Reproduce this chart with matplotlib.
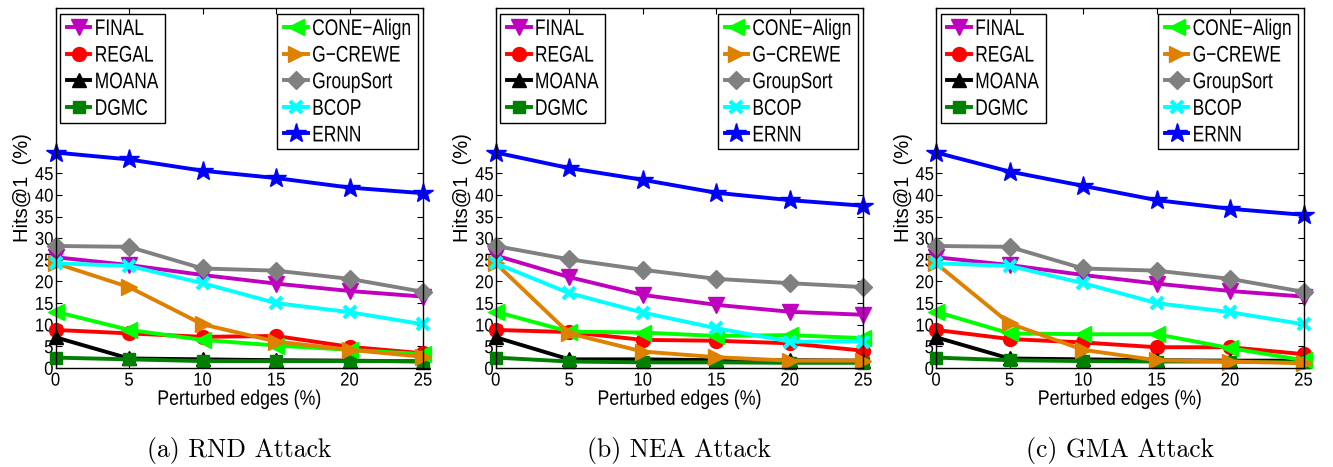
import matplotlib
matplotlib.use("Agg")
import matplotlib.pyplot as plt
from matplotlib.legend import Legend
from matplotlib import patheffects
from matplotlib.transforms import Affine2D

# Perturbation levels (% of edges)
perturbed = [0, 5, 10, 15, 20, 25]

# Hits@1 (%) per method, one list per attack type
rnd = {
    "FINAL":      [25.6, 23.8, 21.5, 19.5, 17.8, 16.5],
    "REGAL":      [8.8, 8.0, 7.2, 7.4, 4.9, 3.4],
    "MOANA":      [7.1, 2.2, 2.0, 1.8, 1.7, 1.5],
    "DGMC":       [2.4, 2.0, 1.6, 1.6, 1.6, 1.6],
    "CONE-Align": [13.0, 8.8, 6.5, 5.2, 4.2, 3.2],
    "G-CREWE":    [24.2, 18.7, 10.1, 6.1, 4.2, 2.6],
    "GroupSort":  [28.2, 28.0, 23.0, 22.5, 20.6, 17.6],
    "BCOP":       [24.2, 23.6, 19.6, 15.0, 12.9, 10.1],
    "ERNN":       [49.8, 48.2, 45.6, 43.9, 41.7, 40.4],
}
nea = {
    "FINAL":      [26.0, 21.0, 16.9, 14.6, 13.0, 12.3],
    "REGAL":      [8.8, 8.3, 6.5, 6.3, 5.7, 4.0],
    "MOANA":      [7.1, 2.0, 2.0, 1.8, 1.8, 1.7],
    "DGMC":       [2.4, 1.5, 1.3, 1.3, 1.2, 1.2],
    "CONE-Align": [13.0, 8.4, 8.2, 7.4, 7.6, 6.9],
    "G-CREWE":    [24.2, 8.0, 3.8, 2.5, 1.7, 1.7],
    "GroupSort":  [28.2, 25.1, 22.7, 20.6, 19.6, 18.7],
    "BCOP":       [24.2, 17.3, 12.8, 9.2, 6.1, 6.1],
    "ERNN":       [49.8, 46.2, 43.5, 40.5, 38.8, 37.5],
}
gma = {
    "FINAL":      [25.6, 23.8, 21.5, 19.5, 17.8, 16.5],
    "REGAL":      [8.8, 6.7, 5.9, 4.8, 4.8, 3.2],
    "MOANA":      [7.1, 2.2, 2.0, 1.8, 1.7, 1.7],
    "DGMC":       [2.4, 1.8, 1.6, 1.5, 1.5, 1.3],
    "CONE-Align": [13.0, 8.0, 7.8, 7.8, 4.6, 1.8],
    "G-CREWE":    [24.2, 10.3, 4.2, 1.8, 1.5, 1.1],
    "GroupSort":  [28.2, 28.0, 23.0, 22.5, 20.6, 17.6],
    "BCOP":       [24.2, 23.6, 19.6, 15.0, 12.9, 10.1],
    "ERNN":       [49.8, 45.4, 42.1, 38.8, 36.8, 35.4],
}

panels = [rnd, nea, gma]
captions = ["(a) RND Attack", "(b) NEA Attack", "(c) GMA Attack"]
y_ticks = [0, 5, 10, 15, 20, 25, 30, 35, 40, 45]

methods = ["FINAL", "REGAL", "MOANA", "DGMC",
           "CONE-Align", "G-CREWE", "GroupSort", "BCOP", "ERNN"]
styles = {
    "FINAL":      dict(color=(0.75, 0.0, 0.75), marker="v", ms=11),
    "REGAL":      dict(color=(1.0, 0.0, 0.0), marker="o", ms=10),
    "MOANA":      dict(color=(0.0, 0.0, 0.0), marker="^", ms=10),
    "DGMC":       dict(color=(0.0, 0.5, 0.0), marker="s", ms=9),
    "CONE-Align": dict(color=(0.0, 1.0, 0.0), marker="<", ms=11),
    "G-CREWE":    dict(color=(0.87, 0.5, 0.0), marker=">", ms=11),
    "GroupSort":  dict(color=(0.5, 0.5, 0.5), marker="D", ms=9),
    "BCOP":       dict(color=(0.0, 1.0, 1.0), marker="x", ms=9),
    "ERNN":       dict(color=(0.0, 0.0, 1.0), marker="*", ms=15),
}

sans = ["Liberation Sans", "DejaVu Sans"]


class TallGlyphs(patheffects.AbstractPathEffect):
    """Stretch glyphs vertically about their mid cap height (narrow look)."""

    def __init__(self, sy, mid=0.36):
        super().__init__()
        self.sy = sy
        self.mid = mid * 100.0  # text paths use 100 units per em

    def draw_path(self, renderer, gc, tpath, affine, rgbFace=None):
        pre = Affine2D().translate(0, -self.mid).scale(1.0, self.sy).translate(0, self.mid)
        renderer.draw_path(gc, tpath, pre + affine, rgbFace)


W, H = 1333, 467
fig = plt.figure(figsize=(W / 100, H / 100), dpi=100)

lefts = [55.5, 495.7, 936.0]
ax_w, ax_top, ax_bot = 367.5, 8.0, 368.0

for left, data, cap in zip(lefts, panels, captions):
    ax = fig.add_axes([left / W, (H - ax_bot) / H, ax_w / W, (ax_bot - ax_top) / H])
    handles = []
    for m in methods:
        st = styles[m]
        mew = 3.0 if st["marker"] == "x" else 1.0
        (h,) = ax.plot(perturbed, data[m], color=st["color"], lw=2.8,
                       marker=st["marker"], ms=st["ms"],
                       markerfacecolor=st["color"], markeredgecolor=st["color"],
                       markeredgewidth=mew, label=m.replace("-", "\u2212"),
                       clip_on=False)
        handles.append(h)

    ax.set_xlim(0, 25)
    ax.set_ylim(0, 83.2)
    ax.set_xticks(perturbed)
    ax.set_yticks(y_ticks)
    ax.tick_params(direction="in", top=True, right=True, length=4, width=0.8,
                   labelsize=12, pad=3.5)
    ax.tick_params(axis="y", pad=1.5)
    for tk in ax.xaxis.get_major_ticks() + ax.yaxis.get_major_ticks():
        tk.label1.set_family(sans)
        tk.label1.set_path_effects([TallGlyphs(1.12)])
    for sp in ax.spines.values():
        sp.set_linewidth(1.0)

    xl = ax.set_xlabel("Perturbed edges (%)", fontsize=12.8, family=sans, labelpad=2)
    xl.set_path_effects([TallGlyphs(1.18)])
    ax.set_ylabel("Hits@1  (%)", fontsize=14.5, family=sans, labelpad=2)

    leg_kw = dict(prop={"family": sans, "size": 12.5}, frameon=True,
                  fancybox=False, edgecolor="black", framealpha=1.0,
                  handlelength=1.35, handletextpad=0.25, labelspacing=0.66,
                  borderpad=0.4, borderaxespad=0.0)
    leg1 = Legend(ax, handles[:4], [h.get_label() for h in handles[:4]],
                  loc="upper left", bbox_to_anchor=(4.5 / ax_w, 1 - 6 / 360), **leg_kw)
    leg2 = Legend(ax, handles[4:], [h.get_label() for h in handles[4:]],
                  loc="upper right", bbox_to_anchor=((418 - 55.5) / ax_w, 1 - 6 / 360), **leg_kw)
    for leg in (leg1, leg2):
        leg.get_frame().set_linewidth(1.0)
        for t in leg.get_texts():
            t.set_path_effects([TallGlyphs(1.3)])
        ax.add_artist(leg)

    fig.text((left + ax_w / 2) / W, (H - 450) / H, cap, ha="center", va="center",
             fontsize=18.5, family="cmr10")

fig.savefig("out.png", dpi=100)
